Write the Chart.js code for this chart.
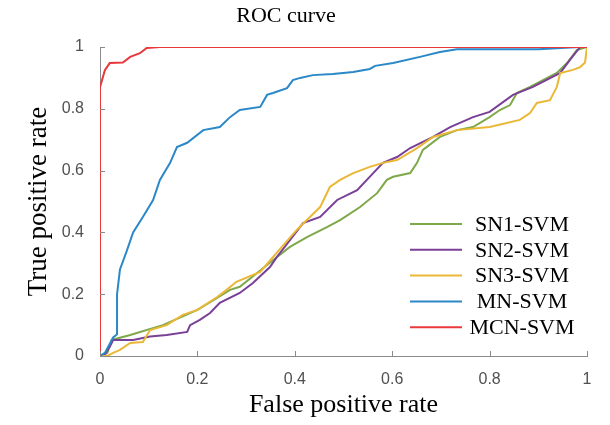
<!DOCTYPE html>
<html>
<head>
<meta charset="utf-8">
<script src="https://cdn.jsdelivr.net/npm/chart.js@4"></script>
<style>
  body { margin: 0; background: #fff; }
  #wrap { width: 610px; height: 425px; }
</style>
</head>
<body>
<div id="wrap"><canvas id="rocChart"></canvas></div>
<script>
// Series names (legend order)
const seriesNames = ['SN1-SVM', 'SN2-SVM', 'SN3-SVM', 'MN-SVM', 'MCN-SVM'];
const seriesColors = ['#7fa84a', '#7a3f96', '#eab836', '#2b88c8', '#e8383a'];

// Tick labels
const tickValues = [0, 0.2, 0.4, 0.6, 0.8, 1];

// ROC points (false positive rate / true positive rate)
const fprSN1 = [0, 0.015, 0.024, 0.062, 0.129, 0.2, 0.233, 0.267, 0.287, 0.322, 0.355, 0.39, 0.425, 0.466, 0.493, 0.534, 0.569, 0.589, 0.602, 0.637, 0.651, 0.663, 0.698, 0.733, 0.766, 0.8, 0.821, 0.842, 0.856, 0.883, 0.938, 0.959, 0.979, 1];
const tprSN1 = [0, 0.01, 0.052, 0.068, 0.1, 0.149, 0.181, 0.214, 0.224, 0.268, 0.31, 0.353, 0.385, 0.417, 0.44, 0.482, 0.527, 0.57, 0.58, 0.592, 0.625, 0.667, 0.709, 0.731, 0.741, 0.773, 0.796, 0.812, 0.851, 0.871, 0.916, 0.948, 0.99, 1];

const fprSN2 = [0, 0.01, 0.02, 0.027, 0.068, 0.103, 0.137, 0.179, 0.185, 0.205, 0.226, 0.246, 0.287, 0.314, 0.349, 0.363, 0.39, 0.417, 0.452, 0.487, 0.528, 0.561, 0.581, 0.61, 0.637, 0.684, 0.719, 0.766, 0.8, 0.848, 0.889, 0.945, 0.965, 0.986, 1];
const tprSN2 = [0, 0.005, 0.03, 0.052, 0.052, 0.063, 0.068, 0.078, 0.1, 0.117, 0.139, 0.172, 0.204, 0.236, 0.288, 0.32, 0.375, 0.43, 0.45, 0.505, 0.537, 0.592, 0.625, 0.644, 0.673, 0.709, 0.741, 0.773, 0.79, 0.845, 0.871, 0.916, 0.958, 1, 1];

const fprSN3 = [0, 0.015, 0.027, 0.041, 0.062, 0.088, 0.103, 0.137, 0.17, 0.2, 0.24, 0.26, 0.28, 0.329, 0.355, 0.404, 0.431, 0.452, 0.472, 0.493, 0.52, 0.554, 0.581, 0.61, 0.651, 0.684, 0.733, 0.8, 0.862, 0.883, 0.897, 0.924, 0.938, 0.945, 0.971, 0.986, 0.996, 1];
const tprSN3 = [0, 0, 0.01, 0.02, 0.042, 0.045, 0.084, 0.1, 0.133, 0.149, 0.19, 0.214, 0.24, 0.272, 0.32, 0.408, 0.45, 0.482, 0.547, 0.57, 0.592, 0.612, 0.625, 0.634, 0.673, 0.709, 0.731, 0.741, 0.764, 0.786, 0.819, 0.828, 0.871, 0.916, 0.926, 0.935, 0.95, 1];

const fprMN = [0, 0.01, 0.027, 0.035, 0.035, 0.041, 0.055, 0.068, 0.088, 0.109, 0.123, 0.144, 0.158, 0.179, 0.212, 0.246, 0.267, 0.287, 0.329, 0.343, 0.355, 0.384, 0.396, 0.411, 0.437, 0.478, 0.52, 0.554, 0.565, 0.602, 0.657, 0.698, 0.733, 0.9, 0.985, 1];
const tprMN = [0, 0.01, 0.06, 0.07, 0.2, 0.28, 0.34, 0.4, 0.45, 0.505, 0.57, 0.625, 0.676, 0.69, 0.731, 0.741, 0.773, 0.796, 0.806, 0.845, 0.851, 0.867, 0.893, 0.9, 0.909, 0.913, 0.919, 0.929, 0.939, 0.948, 0.968, 0.984, 0.993, 0.993, 1, 1];

const fprMCN = [0, 0, 0.01, 0.02, 0.047, 0.062, 0.082, 0.096, 0.123, 1];
const tprMCN = [0, 0.87, 0.925, 0.948, 0.95, 0.968, 0.98, 0.997, 1, 1];

const fprAll = [fprSN1, fprSN2, fprSN3, fprMN, fprMCN];
const tprAll = [tprSN1, tprSN2, tprSN3, tprMN, tprMCN];

function toPoints(xs, ys) {
    return xs.map((x, i) => ({ x: x, y: ys[i] }));
}

// MATLAB style tick text: 0, 0.2, ..., 1
function tickText(v) {
    return String(+Number(v).toFixed(1));
}

// title, inward ticks and legend drawn like the MATLAB figure
const figureExtras = {
    id: 'figureExtras',
    afterDraw(chart) {
        const ctx = chart.ctx;
        const xs = chart.scales.x;
        const ys = chart.scales.y;
        const area = chart.chartArea;
        ctx.save();

        // inward tick marks
        ctx.strokeStyle = '#8a8a8a';
        ctx.lineWidth = 1;
        ctx.beginPath();
        tickValues.forEach(v => {
            const px = Math.round(xs.getPixelForValue(v)) + 0.5;
            ctx.moveTo(px, area.bottom);
            ctx.lineTo(px, area.bottom - 5);
            const py = Math.round(ys.getPixelForValue(v)) + 0.5;
            ctx.moveTo(area.left, py);
            ctx.lineTo(area.left + 5, py);
        });
        ctx.stroke();

        // title
        ctx.fillStyle = '#000';
        ctx.font = '22px "Liberation Serif", "Times New Roman", serif';
        ctx.textAlign = 'center';
        ctx.textBaseline = 'middle';
        ctx.fillText('ROC curve', 286, 16);

        // legend
        chart.data.datasets.forEach((ds, i) => {
            const y = 224 + i * 25.8;
            ctx.strokeStyle = ds.borderColor;
            ctx.lineWidth = 2;
            ctx.beginPath();
            ctx.moveTo(410, y);
            ctx.lineTo(462, y);
            ctx.stroke();
            ctx.fillStyle = '#000';
            ctx.textAlign = 'center';
            ctx.fillText(ds.label, 522, y + 1);
        });
        ctx.restore();
    }
};

const datasets = seriesNames.map((name, i) => ({
    label: name,
    data: toPoints(fprAll[i], tprAll[i]),
    borderColor: seriesColors[i],
    borderWidth: 2,
    pointRadius: 0,
    tension: 0,
    fill: false,
    order: seriesNames.length - i
}));

const ctx = document.getElementById('rocChart').getContext('2d');
const rocChart = new Chart(ctx, {
    type: 'line',
    data: { datasets: datasets },
    options: {
        responsive: true,
        maintainAspectRatio: false,
        animation: false,
        layout: { padding: { top: 47, right: 23, bottom: 0, left: 0 } },
        plugins: {
            legend: { display: false },
            title: { display: false },
            tooltip: { enabled: false }
        },
        scales: {
            x: {
                type: 'linear',
                min: 0,
                max: 1,
                afterFit: s => { s.height = 69; },
                afterBuildTicks: s => { s.ticks = tickValues.map(v => ({ value: v })); },
                grid: { display: false },
                border: { display: true, color: '#8a8a8a', width: 1 },
                ticks: {
                    padding: 6,
                    maxRotation: 0,
                    color: '#505050',
                    callback: tickText,
                    font: { family: '"Liberation Sans", Arial, sans-serif', size: 16 }
                },
                title: {
                    display: true,
                    text: 'False positive rate',
                    color: '#000',
                    padding: { top: 4, bottom: 4 },
                    font: { family: '"Liberation Serif", "Times New Roman", serif', size: 26 }
                }
            },
            y: {
                type: 'linear',
                min: 0,
                max: 1,
                afterFit: s => { s.width = 100; },
                afterBuildTicks: s => { s.ticks = tickValues.map(v => ({ value: v })); },
                grid: { display: false },
                border: { display: true, color: '#8a8a8a', width: 1 },
                ticks: {
                    padding: 8,
                    color: '#505050',
                    callback: tickText,
                    font: { family: '"Liberation Sans", Arial, sans-serif', size: 16 }
                },
                title: {
                    display: true,
                    text: 'True positive rate',
                    color: '#000',
                    padding: { top: 23, bottom: 4 },
                    font: { family: '"Liberation Serif", "Times New Roman", serif', size: 27 }
                }
            }
        }
    },
    plugins: [figureExtras]
});
</script>
</body>
</html>
